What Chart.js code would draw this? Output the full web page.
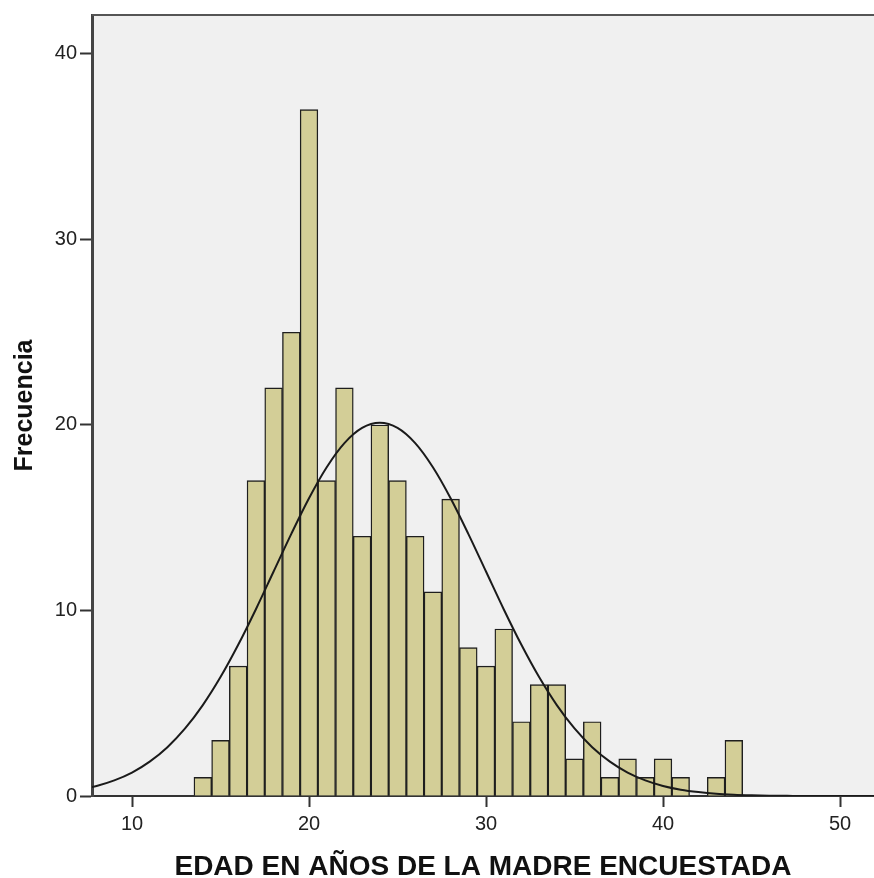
<!DOCTYPE html>
<html>
<head>
<meta charset="utf-8">
<script src="https://cdn.jsdelivr.net/npm/chart.js@4"></script>
<style>
    html, body { margin: 0; padding: 0; background: #ffffff; }
    #histo { display: block; }
</style>
</head>
<body>
<canvas id="histo" width="874" height="878"></canvas>
<script>
// Histograma de edades (bins de 1 año, centrados en el entero)
const binCenters = [14, 15, 16, 17, 18, 19, 20, 21, 22, 23, 24, 25, 26, 27, 28, 29,
    30, 31, 32, 33, 34, 35, 36, 37, 38, 39, 40, 41, 42, 43, 44];
const frequencies = [1, 3, 7, 17, 22, 25, 37, 17, 22, 14, 20, 17, 14, 11, 16, 8,
    7, 9, 4, 6, 6, 2, 4, 1, 2, 1, 2, 1, 0, 1, 3];

// Curva normal
const curveX = [7, 8, 9, 10, 11, 12, 13, 14, 15, 16, 17, 18, 19, 20, 21, 22, 23, 24,
    25, 26, 27, 28, 29, 30, 31, 32, 33, 34, 35, 36, 37, 38, 39, 40, 41, 42, 43, 44,
    45, 46, 47, 48, 49, 50, 51, 52];
const curveY = [0.34, 0.54, 0.84, 1.26, 1.85, 2.63, 3.64, 4.90, 6.41, 8.15, 10.07, 12.10,
    14.13, 16.05, 17.72, 19.02, 19.84, 20.12, 19.84, 19.02, 17.72, 16.05, 14.13, 12.10,
    10.07, 8.15, 6.41, 4.90, 3.64, 2.63, 1.85, 1.26, 0.84, 0.54, 0.34, 0.21, 0.12, 0.07,
    0.04, 0.02, 0.01, 0, 0, 0, 0, 0];

const xTicks = [10, 20, 30, 40, 50];
const yTicks = [0, 10, 20, 30, 40];

// fondo gris del área y borde superior
const plotFrame = {
    id: 'plotFrame',
    beforeDraw(chart) {
        const { ctx, chartArea: a } = chart;
        ctx.save();
        ctx.fillStyle = '#f0f0f0';
        ctx.fillRect(a.left, a.top, a.right - a.left, a.bottom - a.top);
        ctx.restore();
    },
    afterDraw(chart) {
        const { ctx, chartArea: a } = chart;
        ctx.save();
        ctx.strokeStyle = '#555555';
        ctx.lineWidth = 2;
        ctx.beginPath();
        ctx.moveTo(a.left, a.top);
        ctx.lineTo(a.right, a.top);
        ctx.stroke();
        ctx.restore();
    }
};

const tickFont = { family: '"Liberation Sans", Arial, sans-serif', size: 20 };

new Chart(document.getElementById('histo'), {
    type: 'bar',
    data: {
        datasets: [{
            type: 'bar',
            order: 1,
            data: binCenters.map((x, i) => ({ x: x, y: frequencies[i] })),
            backgroundColor: '#d3ce97',
            borderColor: '#1e1e1e',
            borderWidth: 1.4,
            borderSkipped: 'start',
            barPercentage: 1,
            categoryPercentage: 1
        }, {
            type: 'line',
            order: 0,
            data: curveX.map((x, i) => ({ x: x, y: curveY[i] })),
            borderColor: '#1a1a1a',
            borderWidth: 2,
            pointRadius: 0,
            fill: false,
            cubicInterpolationMode: 'monotone'
        }]
    },
    options: {
        responsive: false,
        animation: false,
        layout: { padding: { top: 13, right: 0, bottom: 0, left: 0 } },
        plugins: {
            legend: { display: false },
            tooltip: { enabled: false }
        },
        scales: {
            x: {
                type: 'linear',
                min: 7.74,
                max: 51.92,
                offset: false,
                afterFit(scale) { scale.height = 82; },
                afterBuildTicks(scale) { scale.ticks = xTicks.map(v => ({ value: v })); },
                grid: {
                    offset: false,
                    drawOnChartArea: false,
                    drawTicks: true,
                    tickLength: 11,
                    tickWidth: 2,
                    tickColor: '#333333'
                },
                border: { display: true, color: '#333333', width: 2 },
                ticks: { font: tickFont, color: '#222222', padding: 5, maxRotation: 0 },
                title: {
                    display: true,
                    text: 'EDAD EN AÑOS DE LA MADRE ENCUESTADA',
                    color: '#111111',
                    font: { family: '"Liberation Sans", Arial, sans-serif', size: 28, weight: 'bold', lineHeight: 0.8 },
                    padding: 0
                }
            },
            y: {
                min: 0,
                max: 42.1,
                afterFit(scale) { scale.width = 92; },
                afterBuildTicks(scale) { scale.ticks = yTicks.map(v => ({ value: v })); },
                grid: {
                    drawOnChartArea: false,
                    drawTicks: true,
                    tickLength: 12,
                    tickWidth: 2,
                    tickColor: '#333333'
                },
                border: { display: true, color: '#444444', width: 3 },
                ticks: { font: tickFont, color: '#222222', padding: 3 },
                title: {
                    display: true,
                    text: 'Frecuencia',
                    color: '#111111',
                    font: { family: '"Liberation Sans", Arial, sans-serif', size: 25, weight: 'bold' },
                    padding: { top: 10, bottom: 10 }
                }
            }
        }
    },
    plugins: [plotFrame]
});
</script>
</body>
</html>
